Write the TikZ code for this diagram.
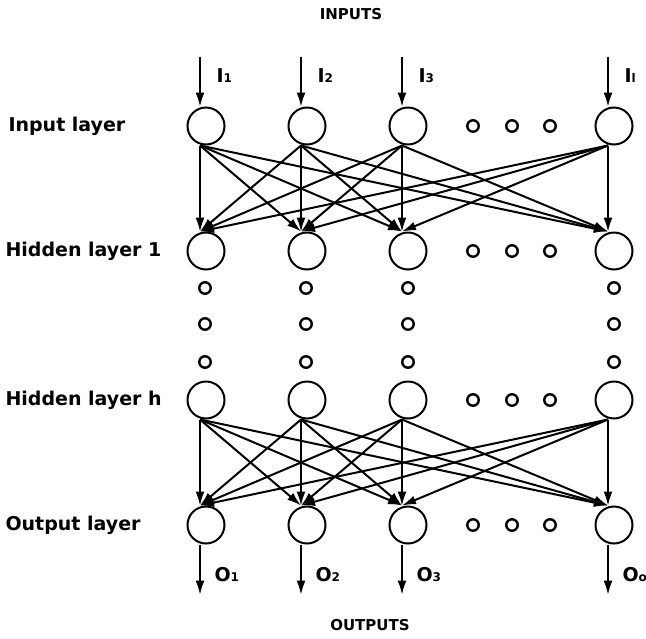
\documentclass[tikz,border=0pt]{standalone}
\usepackage{fontspec}
\setmainfont{DejaVu Sans}
\usepackage{tikz}
\usetikzlibrary{arrows.meta, positioning, calc}

\tikzset{
  unit/.style={circle, draw, line width=2pt, minimum size=37pt, inner sep=0pt},
  dotunit/.style={circle, draw, line width=2.4pt, minimum size=11.5pt, inner sep=0pt},
  layerlabel/.style={anchor=west, font=\fontsize{19}{21}\selectfont\bfseries},
  iolabel/.style={anchor=west, font=\fontsize{19}{21}\selectfont\bfseries},
  headlabel/.style={font=\fontsize{15}{17}\selectfont\bfseries},
  wire/.style={->, line width=2pt},
  straight/.style={->, line width=1.5pt},
}

\begin{document}
\begin{tikzpicture}[x=1pt, y=-1pt, >={Latex[length=14pt,width=9pt]}]
    \useasboundingbox (0,0) rectangle (646,638);

    % units of the four layers
    \foreach \name/\y in {in/126, hA/251, hB/400, out/525} {
        \foreach \i/\x in {1/206, 2/307, 3/408, 4/614}
            \node[unit] (\name\i) at (\x,\y) {};
        \foreach \j/\x in {1/473, 2/512, 3/550}
            \node[dotunit] (\name d\j) at (\x,\y) {};
    }

    % hidden layers in between
    \foreach \i/\x in {1/205, 2/306, 3/408, 4/614}
        \foreach \k/\y in {1/288, 2/324, 3/362}
            \node[dotunit] (v\i\k) at (\x,\y) {};

    % full connections
    \foreach \up/\dn in {in/hA, hB/out}
        \foreach \a in {1,...,4}
            \foreach \b in {1,...,4} {
                \ifnum\a=\b
                    \draw[straight] ([xshift=-6pt]\up\a.south) -- ([xshift=-6pt]\dn\b.north);
                \else
                    \draw[wire] ([xshift=-6pt]\up\a.south) -- ([xshift=-6pt]\dn\b.north);
                \fi
            }

    % inputs and outputs
    \foreach \i/\lab in {1/1, 2/2, 3/3, 4/l} {
        \coordinate (src\i) at ($(in\i.north)+(-6,-50)$);
        \draw[straight] (src\i) -- ([xshift=-6pt]in\i.north);
        \node[iolabel] (I\i) at ($(src\i)+(13,19)$) {I{\fontsize{12}{12}\selectfont\lab}};
    }
    \foreach \i/\lab in {1/1, 2/2, 3/3, 4/o} {
        \coordinate (snk\i) at ($(out\i.south)+(-6,50)$);
        \draw[straight] ([xshift=-6pt]out\i.south) -- (snk\i);
        \node[iolabel] (O\i) at ($(snk\i)+(11,-20)$) {O{\fontsize{12}{12}\selectfont\lab}};
    }

    \node[layerlabel] (lblin) at (5,126) {Input layer};
    \node[layerlabel] (lblhA) at (2,251) {Hidden layer 1};
    \node[layerlabel] (lblhB) at (2,400) {Hidden layer h};
    \node[layerlabel] (lblout) at (2,525) {Output layer};

    \node[headlabel] (inputs) at (351,14) {INPUTS};
    \node[headlabel] (outputs) at (370,625) {OUTPUTS};
\end{tikzpicture}
\end{document}
